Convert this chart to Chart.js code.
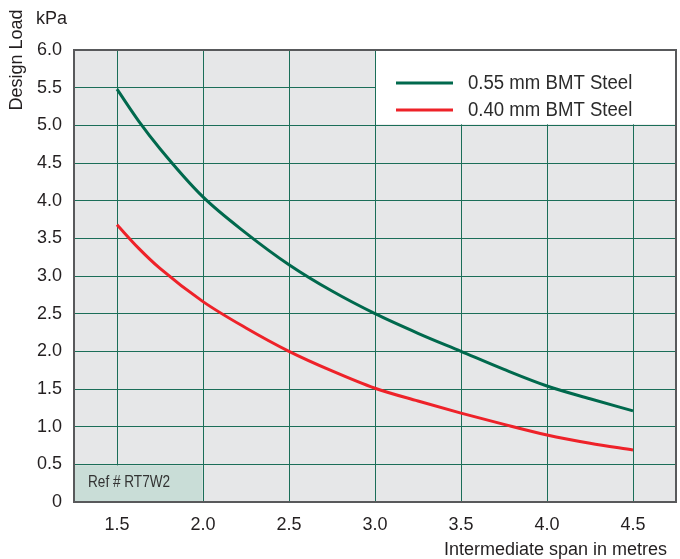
<!DOCTYPE html>
<html>
<head>
<meta charset="utf-8">
<script src="https://cdn.jsdelivr.net/npm/chart.js@4.4.1/dist/chart.umd.min.js"></script>
<style>
  body { margin: 0; background: #fff; }
  #wrap { width: 680px; height: 559px; position: relative; }
</style>
</head>
<body>
<div id="wrap"><canvas id="loadChart"></canvas></div>
<script>
// span (m) vs design load (kPa)
const spans = [1.5, 1.625, 1.75, 2.0, 2.25, 2.5, 2.75, 3.0, 3.25, 3.5, 3.75, 4.0, 4.25, 4.5];
const steel055 = [5.48, 5.06, 4.69, 4.05, 3.57, 3.15, 2.80, 2.50, 2.24, 2.00, 1.76, 1.54, 1.37, 1.21];
const steel040 = [3.68, 3.37, 3.10, 2.66, 2.31, 2.00, 1.74, 1.51, 1.34, 1.18, 1.03, 0.89, 0.78, 0.69];

const xTicks = [1.5, 2.0, 2.5, 3.0, 3.5, 4.0, 4.5];
const yTicks = [0, 0.5, 1.0, 1.5, 2.0, 2.5, 3.0, 3.5, 4.0, 4.5, 5.0, 5.5, 6.0];

const seriesNames = ["0.55 mm BMT Steel", "0.40 mm BMT Steel"];
const seriesColors = ["#00694d", "#ee2229"];

const FONT = "'Liberation Sans', Arial, sans-serif";
const GRID = "#1b6e58";

Chart.defaults.font.family = FONT;
Chart.defaults.font.size = 18;
Chart.defaults.color = "#231f20";

const toPoints = ys => spans.map((x, i) => ({ x: x, y: ys[i] }));

// narrow text, a bit like the condensed face of the original
function narrowText(ctx, txt, x, y, size, squeeze) {
  ctx.save();
  ctx.font = size + "px " + FONT;
  ctx.translate(x, y);
  ctx.scale(squeeze, 1);
  ctx.fillText(txt, 0, 0);
  ctx.restore();
}

const decor = {
  id: "decor",
  beforeDraw(chart) {
    const { ctx, chartArea: a } = chart;
    ctx.save();
    ctx.fillStyle = "#e6e7e8";
    ctx.fillRect(a.left, a.top, a.right - a.left, a.bottom - a.top);
    ctx.restore();
  },
  beforeDatasetsDraw(chart) {
    const { ctx, chartArea: a, scales: { x, y } } = chart;
    ctx.save();

    // legend panel
    const lx = x.getPixelForValue(3.0) + 1;
    const ly = y.getPixelForValue(5.0) - 1;
    ctx.fillStyle = "#ffffff";
    ctx.fillRect(lx, a.top, a.right - lx, ly - a.top);

    ctx.textBaseline = "middle";
    ctx.fillStyle = "#2b2b2b";
    [83, 110].forEach((yy, i) => {
      ctx.strokeStyle = seriesColors[i];
      ctx.lineWidth = 3;
      ctx.beginPath();
      ctx.moveTo(396, yy);
      ctx.lineTo(453, yy);
      ctx.stroke();
      narrowText(ctx, seriesNames[i], 468, yy, 20, 0.93);
    });

    // ref box
    const rx = x.getPixelForValue(2.0) - 0.5;
    const ry = y.getPixelForValue(0.5) + 1;
    ctx.fillStyle = "#c9ddd7";
    ctx.fillRect(a.left, ry, rx - a.left, a.bottom - ry);
    ctx.fillStyle = "#333333";
    narrowText(ctx, "Ref # RT7W2", 88, 483, 16, 0.85);

    // frame
    ctx.strokeStyle = "#58595b";
    ctx.lineWidth = 2;
    ctx.strokeRect(a.left, a.top, a.right - a.left, a.bottom - a.top);

    // axis titles
    ctx.fillStyle = "#231f20";
    ctx.font = "18px " + FONT;
    ctx.textAlign = "right";
    ctx.textBaseline = "alphabetic";
    ctx.fillText("Intermediate span in metres", 667, 555);
    ctx.textAlign = "left";
    ctx.fillText("kPa", 36, 24);
    ctx.translate(22, 60);
    ctx.rotate(-Math.PI / 2);
    ctx.textAlign = "center";
    ctx.fillText("Design Load", 0, 0);
    ctx.restore();
  }
};

new Chart(document.getElementById("loadChart"), {
  type: "line",
  data: {
    datasets: [
      { label: seriesNames[0], data: toPoints(steel055), borderColor: seriesColors[0], borderWidth: 3, pointRadius: 0, cubicInterpolationMode: "monotone" },
      { label: seriesNames[1], data: toPoints(steel040), borderColor: seriesColors[1], borderWidth: 3, pointRadius: 0, cubicInterpolationMode: "monotone" }
    ]
  },
  options: {
    responsive: true,
    maintainAspectRatio: false,
    animation: false,
    layout: { padding: { left: 0, right: 4, top: 50, bottom: 0 } },
    plugins: { legend: { display: false }, tooltip: { enabled: false } },
    scales: {
      x: {
        type: "linear",
        min: 1.25,
        max: 4.75,
        afterBuildTicks: s => { s.ticks = xTicks.map(v => ({ value: v })); },
        afterFit: s => { s.height = 57; },
        ticks: { padding: 12, callback: v => v.toFixed(1), maxRotation: 0 },
        grid: { color: GRID, lineWidth: 1, drawTicks: false },
        border: { display: false }
      },
      y: {
        min: 0,
        max: 6,
        afterBuildTicks: s => { s.ticks = yTicks.map(v => ({ value: v })); },
        afterFit: s => { s.width = 74; },
        ticks: { padding: 12, callback: v => (v === 0 ? "0" : v.toFixed(1)) },
        grid: { color: GRID, lineWidth: 1, drawTicks: false },
        border: { display: false }
      }
    }
  },
  plugins: [decor]
});
</script>
</body>
</html>
